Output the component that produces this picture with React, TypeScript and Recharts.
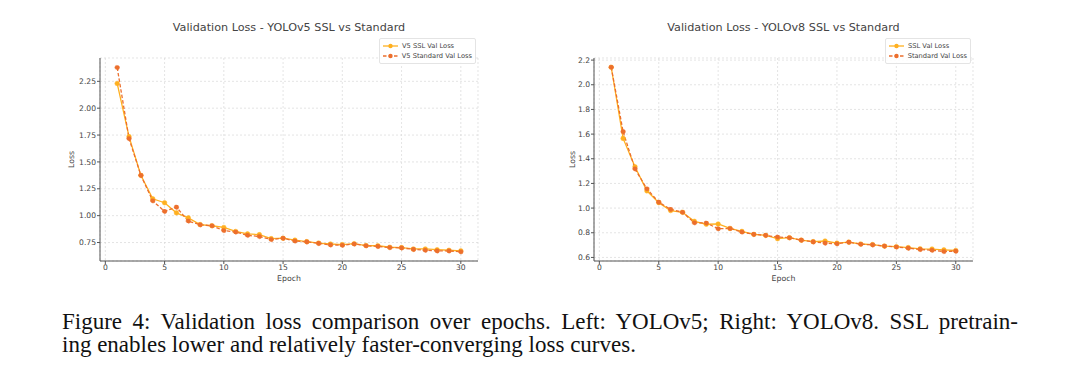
import React from 'react';
import { LineChart, Line, XAxis, YAxis, CartesianGrid, Legend, Label } from 'recharts';

const epochs = [1, 2, 3, 4, 5, 6, 7, 8, 9, 10, 11, 12, 13, 14, 15, 16, 17, 18, 19, 20, 21, 22, 23, 24, 25, 26, 27, 28, 29, 30];

const v5Ssl = [2.23, 1.735, 1.375, 1.157, 1.12, 1.026, 0.979, 0.917, 0.906, 0.89, 0.853, 0.83, 0.823, 0.786, 0.79, 0.772, 0.758, 0.745, 0.736, 0.73, 0.739, 0.722, 0.72, 0.706, 0.703, 0.69, 0.69, 0.683, 0.678, 0.672];
const v5Std = [2.378, 1.717, 1.375, 1.138, 1.04, 1.079, 0.95, 0.915, 0.906, 0.862, 0.848, 0.817, 0.806, 0.778, 0.79, 0.764, 0.756, 0.742, 0.728, 0.725, 0.736, 0.72, 0.714, 0.703, 0.7, 0.686, 0.678, 0.672, 0.672, 0.664];

const v8Ssl = [2.142, 1.565, 1.335, 1.14, 1.044, 0.98, 0.966, 0.893, 0.869, 0.871, 0.835, 0.811, 0.787, 0.779, 0.752, 0.76, 0.74, 0.728, 0.733, 0.716, 0.724, 0.709, 0.704, 0.692, 0.687, 0.68, 0.67, 0.668, 0.661, 0.656];
const v8Std = [2.142, 1.62, 1.318, 1.157, 1.048, 0.99, 0.966, 0.881, 0.879, 0.833, 0.835, 0.806, 0.787, 0.779, 0.765, 0.76, 0.74, 0.726, 0.716, 0.711, 0.724, 0.707, 0.702, 0.692, 0.685, 0.675, 0.665, 0.658, 0.648, 0.651];

const xTicks = [0, 5, 10, 15, 20, 25, 30];
const v5YTicks = [0.75, 1.0, 1.25, 1.5, 1.75, 2.0, 2.25];
const v8YTicks = [0.6, 0.8, 1.0, 1.2, 1.4, 1.6, 1.8, 2.0, 2.2];

const v5Names = ['V5 SSL Val Loss', 'V5 Standard Val Loss'];
const v8Names = ['SSL Val Loss', 'Standard Val Loss'];

const captionLine1 = 'Figure 4: Validation loss comparison over epochs. Left: YOLOv5; Right: YOLOv8. SSL pretrain-';
const captionLine2 = 'ing enables lower and relatively faster-converging loss curves.';

const SSL_COLOR = '#FFB020';
const STD_COLOR = '#EC6F2D';
const FONT = 'DejaVu Sans, sans-serif';
const TEXT = '#444';
const AXIS = '#555';

const buildData = (a: number[], b: number[]) => epochs.map((e, i) => ({ epoch: e, ssl: a[i], std: b[i] }));

const LegendContent = (props: any) => {
  const payload = props.payload || [];
  return (
    <div
      style={{
        border: '1px solid #e4e4e4',
        borderRadius: 2,
        background: 'rgba(255,255,255,0.85)',
        padding: '2px 3px 2px 3px',
        fontFamily: FONT,
        fontSize: 6.7,
        color: TEXT,
        boxSizing: 'border-box',
        width: props.boxWidth,
      }}
    >
      {payload.map((p: any, i: number) => (
        <div key={i} style={{ display: 'flex', alignItems: 'center', height: 10, whiteSpace: 'nowrap' }}>
          <svg width={15} height={6} style={{ display: 'block' }}>
            <line x1={0} y1={3} x2={15} y2={3} stroke={p.color} strokeWidth={1.3} strokeDasharray={p.dataKey === 'std' ? '3.5 2' : undefined} />
            <circle cx={7.5} cy={3} r={2.2} fill={p.color} />
          </svg>
          <span style={{ marginLeft: 4 }}>{p.value}</span>
        </div>
      ))}
    </div>
  );
};

type PanelProps = {
  left: number;
  marginLeft: number;
  marginRight: number;
  title: string;
  ssl: number[];
  std: number[];
  yDomain: [number, number];
  yTicks: number[];
  digits: number;
  names: string[];
  lossOffset: number;
  legendLeft: number;
  legendWidth: number;
};

const Panel = (p: PanelProps) => {
  const data = buildData(p.ssl, p.std);
  const W = 540;
  const plotLeft = p.marginLeft + 40;
  const plotRight = W - p.marginRight;
  return (
    <div style={{ position: 'absolute', left: p.left, top: 0, width: W, height: 300 }}>
      <div
        style={{
          position: 'absolute',
          left: plotLeft,
          width: plotRight - plotLeft,
          top: 20,
          textAlign: 'center',
          fontFamily: FONT,
          fontSize: 11.2,
          color: TEXT,
          lineHeight: '15px',
          whiteSpace: 'nowrap',
        }}
      >
        {p.title}
      </div>
      <LineChart width={W} height={300} data={data} margin={{ top: 35, right: p.marginRight, bottom: 9, left: p.marginLeft }}>
        <CartesianGrid stroke="#d9d9d9" strokeDasharray="2 2" strokeWidth={0.7} />
        <XAxis
          dataKey="epoch"
          type="number"
          domain={[-0.45, 31.45]}
          allowDataOverflow
          ticks={xTicks}
          interval={0}
          height={30}
          tickSize={3}
          tickMargin={1}
          stroke={AXIS}
          tick={{ fill: TEXT, fontSize: 7.6, fontFamily: FONT }}
        >
          <Label
            content={(lp: any) => {
              const vb = lp.viewBox || {};
              return (
                <text x={vb.x + vb.width / 2} y={278} textAnchor="middle" dominantBaseline="central" fill={TEXT} fontSize={7.8} fontFamily={FONT}>
                  Epoch
                </text>
              );
            }}
          />
        </XAxis>
        <YAxis
          type="number"
          domain={p.yDomain}
          allowDataOverflow
          ticks={p.yTicks}
          interval={0}
          width={40}
          tickSize={3}
          tickMargin={1}
          stroke={AXIS}
          tick={{ fill: TEXT, fontSize: 7.6, fontFamily: FONT }}
          tickFormatter={(v: number) => v.toFixed(p.digits)}
        >
          <Label
            content={(lp: any) => {
              const vb = lp.viewBox || {};
              const x = p.marginLeft + p.lossOffset;
              const y = vb.y + vb.height / 2;
              return (
                <text x={x} y={y} transform={`rotate(-90, ${x}, ${y})`} textAnchor="middle" dominantBaseline="central" fill={TEXT} fontSize={7.8} fontFamily={FONT}>
                  Loss
                </text>
              );
            }}
          />
        </YAxis>
        <Legend
          verticalAlign="top"
          align="right"
          content={(lp: any) => <LegendContent {...lp} boxWidth={p.legendWidth} />}
          wrapperStyle={{ position: 'absolute', left: p.legendLeft, top: 38, width: p.legendWidth, height: 23 }}
        />
        <Line
          type="linear"
          dataKey="ssl"
          name={p.names[0]}
          stroke={SSL_COLOR}
          strokeWidth={1.3}
          dot={{ r: 2.3, fill: SSL_COLOR, stroke: SSL_COLOR, strokeWidth: 0.5 }}
          isAnimationActive={false}
        />
        <Line
          type="linear"
          dataKey="std"
          name={p.names[1]}
          stroke={STD_COLOR}
          strokeWidth={1.3}
          strokeDasharray="3.5 2"
          dot={{ r: 2.3, fill: STD_COLOR, stroke: STD_COLOR, strokeWidth: 0.5 }}
          isAnimationActive={false}
        />
      </LineChart>
    </div>
  );
};

export default function App() {
  return (
    <div style={{ position: 'absolute', left: 0, top: 0, width: 1080, height: 385, background: '#fff', overflow: 'hidden' }}>
      <Panel
        left={0}
        marginLeft={60}
        marginRight={62}
        title="Validation Loss - YOLOv5 SSL vs Standard"
        ssl={v5Ssl}
        std={v5Std}
        yDomain={[0.578, 2.467]}
        yTicks={v5YTicks}
        digits={2}
        names={v5Names}
        lossOffset={11.7}
        legendLeft={379}
        legendWidth={97}
      />
      <Panel
        left={540}
        marginLeft={14}
        marginRight={107}
        title="Validation Loss - YOLOv8 SSL vs Standard"
        ssl={v8Ssl}
        std={v8Std}
        yDomain={[0.571, 2.217]}
        yTicks={v8YTicks}
        digits={1}
        names={v8Names}
        lossOffset={18.3}
        legendLeft={345}
        legendWidth={86}
      />
      <div
        style={{
          position: 'absolute',
          left: 62,
          top: 310,
          width: 956,
          fontFamily: '"Liberation Serif", "Times New Roman", serif',
          fontSize: 23,
          lineHeight: '23px',
          color: '#111',
        }}
      >
        <div style={{ textAlign: 'justify', textAlignLast: 'justify', whiteSpace: 'nowrap' as any }}>{captionLine1}</div>
        <div style={{ whiteSpace: 'nowrap' }}>{captionLine2}</div>
      </div>
    </div>
  );
}
